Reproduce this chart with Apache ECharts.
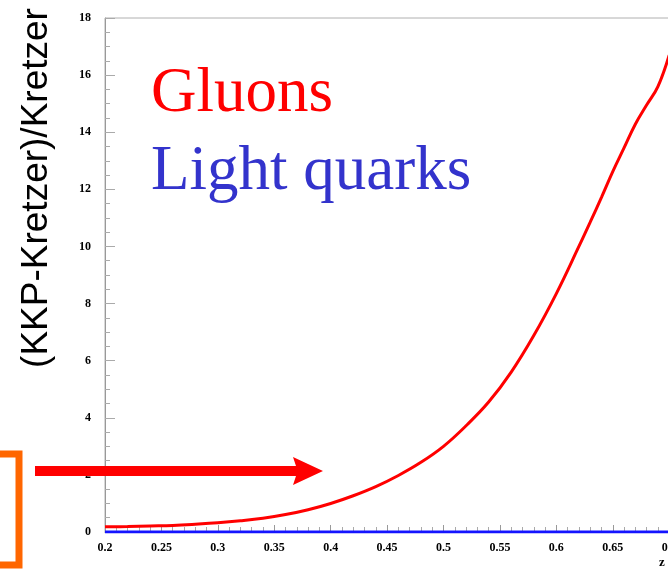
<!DOCTYPE html>
<html>
<head>
<meta charset="utf-8">
<script src="https://cdn.jsdelivr.net/npm/echarts@6/dist/echarts.min.js"></script>
<style>
  html, body { margin: 0; padding: 0; background: #fff; }
  #chart { width: 668px; height: 569px; }
</style>
</head>
<body>
<div id="chart"></div>
<script>
// Momentum fraction z
const zValues = [0.20, 0.22, 0.24, 0.26, 0.28, 0.30, 0.32, 0.34, 0.36, 0.38,
                 0.40, 0.42, 0.44, 0.46, 0.48, 0.50, 0.52, 0.54, 0.56, 0.58,
                 0.60, 0.62, 0.63, 0.64, 0.65, 0.66, 0.67, 0.68, 0.69, 0.70];
// (KKP-Kretzer)/Kretzer for gluons
const gluonRatio = [0.18, 0.19, 0.21, 0.23, 0.27, 0.32, 0.39, 0.48, 0.61, 0.78,
                    1.00, 1.27, 1.59, 1.98, 2.44, 3.00, 3.72, 4.55, 5.60, 6.88,
                    8.35, 10.00, 10.85, 11.72, 12.62, 13.45, 14.28, 14.95, 15.60, 16.70];
// Light-quark z values and ratio
const quarkZ = [0.20, 0.30, 0.40, 0.50, 0.60, 0.70, 0.80];
const quarkRatio = [0, 0, 0, 0, 0, 0, 0];

const seriesNames = ['Gluons', 'Light quarks'];
const yTitle = '(KKP-Kretzer)/Kretzer';

const chart = echarts.init(document.getElementById('chart'), null, { renderer: 'canvas' });

const tickFont = {
  fontFamily: '"Liberation Serif", "DejaVu Serif", serif',
  fontWeight: 'bold',
  fontSize: 12,
  color: '#000'
};

chart.setOption({
  animation: false,
  backgroundColor: '#fff',
  grid: {
    left: 105, top: 18, bottom: 37, width: 677,
    outerBoundsMode: 'none', containLabel: false,
    show: true, borderColor: '#b0b0b0', borderWidth: 1, backgroundColor: 'transparent'
  },
  xAxis: {
    type: 'value', min: 0.2, max: 0.8, interval: 0.05,
    axisLine: { lineStyle: { color: '#999', width: 1 } },
    axisTick: { inside: true, length: 7, lineStyle: { color: '#999' } },
    minorTick: { show: true, splitNumber: 5, length: 5, lineStyle: { color: '#aaa' } },
    splitLine: { show: false },
    axisLabel: Object.assign({ margin: 10, formatter: v => String(+v.toFixed(2)) }, tickFont)
  },
  yAxis: {
    type: 'value', min: 0, max: 18, interval: 2,
    axisLine: { show: true, lineStyle: { color: '#999', width: 1 } },
    axisTick: { show: true, inside: true, length: 10, lineStyle: { color: '#aaa' } },
    minorTick: { show: true, splitNumber: 4, length: 5, lineStyle: { color: '#aaa' } },
    splitLine: { show: false },
    axisLabel: Object.assign({ margin: 14 }, tickFont)
  },
  series: [
    {
      name: seriesNames[0], type: 'line', smooth: 0.4, symbol: 'none',
      lineStyle: { color: '#ff0000', width: 3 },
      data: zValues.map((z, i) => [z, gluonRatio[i]]),
      z: 3
    },
    {
      name: seriesNames[1], type: 'line', symbol: 'none',
      lineStyle: { color: '#1414ff', width: 3 },
      data: quarkZ.map((z, i) => [z, quarkRatio[i]]),
      z: 4
    }
  ],
  graphic: [
    {
      type: 'text', x: 37, y: 188, rotation: Math.PI / 2,
      style: {
        text: yTitle, fill: '#000', fontSize: 37,
        fontFamily: '"Liberation Sans", Arial, sans-serif',
        textAlign: 'center', textVerticalAlign: 'middle'
      }
    },
    {
      type: 'text', x: 151, y: 126,
      style: {
        text: seriesNames[0], fill: '#ff0000', fontSize: 63,
        fontFamily: '"Liberation Serif", "Times New Roman", serif',
        textAlign: 'left', textVerticalAlign: 'bottom'
      }
    },
    {
      type: 'text', x: 151, y: 204,
      style: {
        text: seriesNames[1], fill: '#3333cc', fontSize: 63,
        fontFamily: '"Liberation Serif", "Times New Roman", serif',
        textAlign: 'left', textVerticalAlign: 'bottom'
      }
    },
    {
      type: 'text', x: 659, y: 556,
      style: {
        text: 'z', fill: '#000', fontSize: 13, fontWeight: 'bold',
        fontFamily: '"Liberation Serif", serif'
      }
    },
    // red pointer arrow
    {
      type: 'polygon',
      shape: { points: [[35, 466], [296, 466], [293, 457], [323, 471], [293, 485], [296, 476], [35, 476]] },
      style: { fill: '#ff0000' },
      z: 10
    },
    // orange bracket at the left edge
    {
      type: 'rect',
      shape: { x: -20, y: 454, width: 39, height: 111 },
      style: { fill: 'none', stroke: '#ff6600', lineWidth: 7 },
      z: 10
    }
  ]
});
</script>
</body>
</html>
